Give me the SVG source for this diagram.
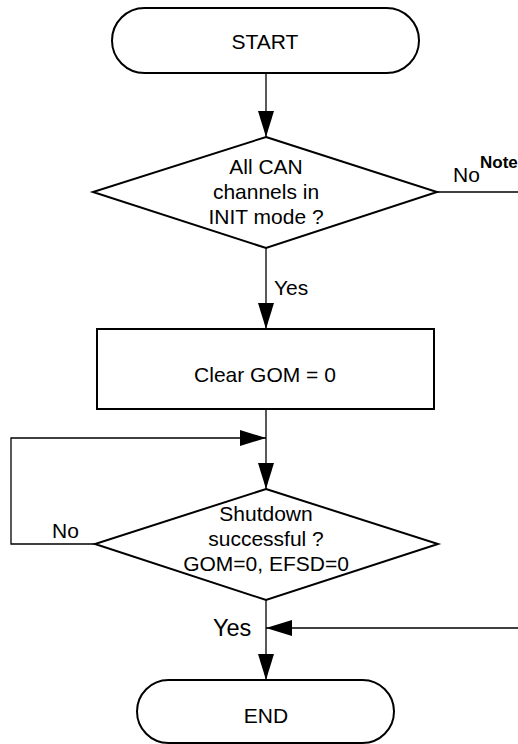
<svg xmlns="http://www.w3.org/2000/svg" width="518" height="744" viewBox="0 0 518 744">
<style>
.shape{fill:#fff;stroke:#000;stroke-width:2}
.conn{fill:none;stroke:#000;stroke-width:1.3}
text{font-family:"Liberation Sans",Arial,sans-serif;font-size:21px;fill:#000}
.c{text-anchor:middle}
</style>
<defs>
<marker id="ah" markerUnits="userSpaceOnUse" markerWidth="26" markerHeight="16" viewBox="0 0 26 16" refX="26" refY="8" orient="auto">
<path d="M0,0 L26,8 L0,16 z" fill="#000"/>
</marker>
</defs>
<rect width="518" height="744" fill="#fff"/>
<g id="connectors">
<line class="conn" x1="266" y1="73" x2="266" y2="137" marker-end="url(#ah)"/>
<line class="conn" x1="266" y1="248" x2="266" y2="329" marker-end="url(#ah)"/>
<line class="conn" x1="266" y1="409" x2="266" y2="489" marker-end="url(#ah)"/>
<polyline class="conn" points="95,544 11,544 11,438 266,438" marker-end="url(#ah)"/>
<line class="conn" x1="437" y1="192" x2="518" y2="192"/>
<line class="conn" x1="266" y1="600" x2="266" y2="680" marker-end="url(#ah)"/>
<line class="conn" x1="518" y1="628" x2="266" y2="628" marker-end="url(#ah)"/>
<text x="453" y="182">No</text>
<text x="480" y="168" style="font-size:17px;font-weight:bold">Note</text>
<text x="274" y="295">Yes</text>
<text x="52" y="538">No</text>
<text x="213" y="636" style="font-size:23.5px">Yes</text>
</g>
<g id="start">
<rect class="shape" x="112" y="8" width="307" height="65" rx="32.5" ry="32.5"/>
<text class="c" x="265" y="49">START</text>
</g>
<g id="check-init">
<polygon class="shape" points="266,137 437,192 266,248 93,192"/>
<text class="c" x="266" y="174">All CAN</text>
<text class="c" x="266" y="199">channels in</text>
<text class="c" x="266" y="224">INIT mode ?</text>
</g>
<g id="clear-gom">
<rect class="shape" x="97" y="329" width="337" height="80"/>
<text class="c" x="265" y="381.5">Clear GOM = 0</text>
</g>
<g id="check-shutdown">
<polygon class="shape" points="266,489 438,544 266,600 95,544"/>
<text class="c" x="266" y="521">Shutdown</text>
<text class="c" x="266" y="546">successful ?</text>
<text class="c" x="266" y="571">GOM=0, EFSD=0</text>
</g>
<g id="end">
<rect class="shape" x="137" y="680" width="257" height="63" rx="31.5" ry="31.5"/>
<text class="c" x="266" y="723">END</text>
</g>
</svg>
